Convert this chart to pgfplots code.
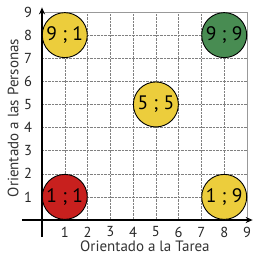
\documentclass[border=0pt]{standalone}
\usepackage{pgfplots}
\pgfplotsset{compat=1.18}
\usetikzlibrary{arrows.meta}
\usepackage{fontspec}
\setmainfont{PT Sans}
\definecolor{cyel}{RGB}{236,205,60}
\definecolor{cred}{RGB}{200,32,30}
\definecolor{cgrn}{RGB}{72,140,82}
\DeclareRobustCommand\sc{\string;}
\begin{document}
\begin{tikzpicture}
\begin{axis}[
  scale only axis, width=205pt, height=208pt,
  xmin=0, xmax=9, ymin=0, ymax=9,
  clip=false,
  axis line style={draw=none},
  major tick length=0pt,
  xtick={1,...,9}, ytick={1,...,9},
  grid=major,
  grid style={densely dotted, black!50, line width=0.5pt},
  /pgf/number format/assume math mode=true,
  tick label style={font=\fontsize{14.5}{14.5}\selectfont, text=black!85},
  xticklabel style={anchor=center, yshift=-12pt},
  yticklabel style={anchor=center, xshift=-14pt},
  circ/.style={only marks, mark=*, mark size=22.5pt,
    mark options={fill=#1, draw=black, line width=0.9pt},
    nodes near coords, point meta=explicit symbolic,
    every node near coord/.style={anchor=center, font=\fontsize{19.5}{19.5}\selectfont, text=black}},
]
\coordinate (bl) at (axis cs:-1.844,-1.774);
\coordinate (tr) at (axis cs:9.31,9.52);
\draw[black!40, line width=0.5pt] (axis cs:0,9) -- (axis cs:9,9) -- (axis cs:9,0);
\addplot[circ=cyel] table[col sep=comma, meta=label] {
x,y,label
1,8,{9 \sc{} 1}
5,5,{5 \sc{} 5}
8,1,{1 \sc{} 9}
};
\addplot[circ=cred] table[col sep=comma, meta=label] {
x,y,label
1,1,{1 \sc{} 1}
};
\addplot[circ=cgrn] table[col sep=comma, meta=label] {
x,y,label
8,8,{9 \sc{} 9}
};
\draw[line width=1.6pt, -{Stealth[length=7pt,width=6pt]}] (axis cs:-0.88,0) -- (axis cs:9.25,0);
\draw[line width=1.6pt, -{Stealth[length=7pt,width=6pt]}] (axis cs:0,-0.74) -- (axis cs:0,9.2);
\node[font=\fontsize{15}{15}\selectfont, text=black!80] at (axis cs:4.52,-1.13) {Orientado a la Tarea};
\node[font=\fontsize{15}{15}\selectfont, text=black!80, rotate=90] at (axis cs:-1.27,4.41) {Orientado a las Personas};
\end{axis}
\pgfresetboundingbox
\path[use as bounding box] (bl) rectangle (tr);
\end{tikzpicture}
\end{document}
